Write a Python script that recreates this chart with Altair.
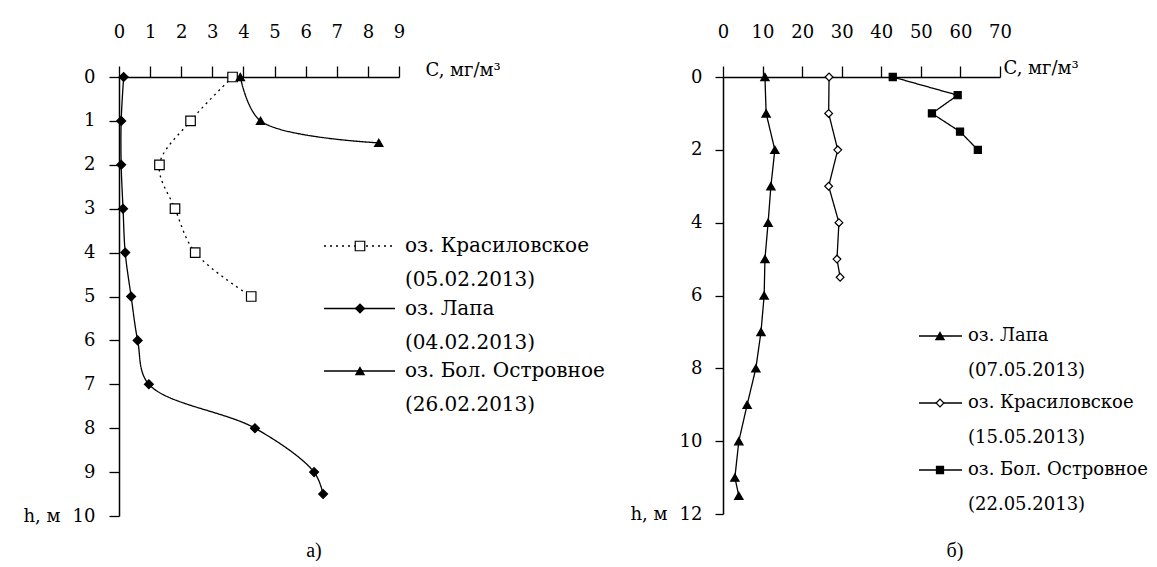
import altair as alt
import pandas as pd

# ---------------- Panel а) ----------------
depth_kras_a = [0, 1, 2, 3, 4, 5]
conc_kras_a = [3.65, 2.3, 1.3, 1.8, 2.45, 4.25]
depth_lapa_a = [0, 1, 2, 3, 4, 5, 6, 7, 8, 9, 9.5]
conc_lapa_a = [0.15, 0.07, 0.07, 0.13, 0.2, 0.39, 0.6, 0.96, 4.37, 6.27, 6.56]
depth_ostr_a = [0, 1, 1.5]
conc_ostr_a = [3.9, 4.55, 8.35]
names_a = ["оз. Красиловское", "оз. Лапа", "оз. Бол. Островное"]
dates_a = ["(05.02.2013)", "(04.02.2013)", "(26.02.2013)"]
xticks_a = [0, 1, 2, 3, 4, 5, 6, 7, 8, 9]
yticks_a = [0, 1, 2, 3, 4, 5, 6, 7, 8, 9, 10]

# ---------------- Panel б) ----------------
depth_lapa_b = [0, 1, 2, 3, 4, 5, 6, 7, 8, 9, 10, 11, 11.5]
conc_lapa_b = [10.6, 10.9, 13.1, 12.1, 11.4, 10.6, 10.4, 9.6, 8.3, 6.1, 4.0, 3.0, 4.0]
depth_kras_b = [0, 1, 2, 3, 4, 5, 5.5]
conc_kras_b = [26.8, 26.7, 29.0, 26.7, 29.3, 28.8, 29.6]
depth_ostr_b = [0, 0.5, 1, 1.5, 2]
conc_ostr_b = [42.9, 59.3, 52.8, 59.9, 64.4]
names_b = ["оз. Лапа", "оз. Красиловское", "оз. Бол. Островное"]
dates_b = ["(07.05.2013)", "(15.05.2013)", "(22.05.2013)"]
xticks_b = [0, 10, 20, 30, 40, 50, 60, 70]
yticks_b = [0, 2, 4, 6, 8, 10, 12]

SERIF = "DejaVu Serif"


def make_df(series):
    rows = []
    for name, hs, cs in series:
        for h, c in zip(hs, cs):
            rows.append({"lake": name, "h": h, "c": c})
    return pd.DataFrame(rows)


def panel(series, names, dates, shapes, fills, sizes, dashes, xdom, xticks,
          ydom, yticks, width, height, interp, xtick, ytick, ylabpad,
          ttl_x, ttl_y, hx, leg, caption, cap_x, cap_y, leg_fs):
    df = make_df(series)
    dash_s = alt.Scale(domain=names, range=dashes)
    shape_s = alt.Scale(domain=names, range=shapes)
    fill_s = alt.Scale(domain=names, range=fills)
    size_s = alt.Scale(domain=names, range=sizes)

    xax = alt.Axis(orient="top", values=xticks, tickSize=xtick,
                   labelPadding=25, labelOverlap=False,
                   labelFont=SERIF, labelFontSize=18,
                   title="C,  мг/м³", titleX=ttl_x, titleY=ttl_y, titleAngle=0,
                   titleAlign="left", titleBaseline="middle",
                   titleFont=SERIF, titleFontSize=18)
    yax = alt.Axis(orient="left", values=yticks, tickSize=ytick,
                   labelPadding=ylabpad, labelOverlap=False,
                   labelFont=SERIF, labelFontSize=18,
                   title="h, м", titleX=hx, titleY=height, titleAngle=0,
                   titleAlign="right", titleBaseline="middle",
                   titleFont=SERIF, titleFontSize=18)

    xs = alt.Scale(domain=xdom, nice=False, zero=False)
    ys = alt.Scale(domain=ydom, nice=False, reverse=True, zero=False)

    lines = alt.Chart(df).mark_line(interpolate=interp, color="black", strokeWidth=1.3).encode(
        x=alt.X("c:Q", scale=xs, axis=xax), y=alt.Y("h:Q", scale=ys, axis=yax),
        detail="lake:N", order=alt.Order("h:Q"),
        strokeDash=alt.StrokeDash("lake:N", scale=dash_s, legend=None))
    pts = alt.Chart(df).mark_point(filled=True, stroke="black", strokeWidth=1.2, opacity=1).encode(
        x=alt.X("c:Q", scale=xs, axis=xax), y=alt.Y("h:Q", scale=ys, axis=yax),
        shape=alt.Shape("lake:N", scale=shape_s, legend=None),
        fill=alt.Fill("lake:N", scale=fill_s, legend=None),
        size=alt.Size("lake:N", scale=size_s, legend=None))

    x0, x1, mx, tx, y0, dy, ddy = leg
    ldf = pd.DataFrame({"lake": names, "date": dates, "i": list(range(len(names)))})
    lbase = alt.Chart(ldf).transform_calculate(
        ly=f"{y0} + datum.i * {dy}", ly2=f"{y0} + datum.i * {dy} + {ddy}")
    lrule = lbase.mark_rule(color="black", strokeWidth=1.3).encode(
        x=alt.value(x0), x2=alt.value(x1), y=alt.Y("ly:Q", scale=None, axis=None),
        strokeDash=alt.StrokeDash("lake:N", scale=dash_s, legend=None))
    lpt = lbase.mark_point(filled=True, stroke="black", strokeWidth=1.2, opacity=1).encode(
        x=alt.value(mx), y=alt.Y("ly:Q", scale=None, axis=None),
        shape=alt.Shape("lake:N", scale=shape_s, legend=None),
        fill=alt.Fill("lake:N", scale=fill_s, legend=None),
        size=alt.Size("lake:N", scale=size_s, legend=None))
    ltxt = lbase.mark_text(align="left", baseline="middle", font=SERIF, fontSize=leg_fs,
                           color="black").encode(
        x=alt.value(tx), y=alt.Y("ly:Q", scale=None, axis=None), text="lake:N")
    ltxt2 = lbase.mark_text(align="left", baseline="middle", font=SERIF, fontSize=leg_fs,
                            color="black").encode(
        x=alt.value(tx), y=alt.Y("ly2:Q", scale=None, axis=None), text="date:N")

    cap = alt.Chart(pd.DataFrame({"cap": [caption]})).mark_text(
        align="center", baseline="middle", font="Liberation Serif", fontSize=20,
        color="black").encode(x=alt.value(cap_x), y=alt.value(cap_y), text="cap:N")

    return alt.layer(lines, pts, lrule, lpt, ltxt, ltxt2, cap).properties(
        width=width, height=height)


left = panel(
    [(names_a[0], depth_kras_a, conc_kras_a),
     (names_a[1], depth_lapa_a, conc_lapa_a),
     (names_a[2], depth_ostr_a, conc_ostr_a)],
    names_a, dates_a,
    ["square", "diamond", "triangle-up"], ["white", "black", "black"], [90, 70, 80],
    [[2, 4], [1, 0], [1, 0]],
    [0, 9], xticks_a, [0, 10], yticks_a, 280, 439, "catmull-rom",
    11, 10, 14, 306, -7, -59,
    (205, 276, 241, 286, 169, 62.5, 34), "а)", 195, 474, 20)

right = panel(
    [(names_b[0], depth_lapa_b, conc_lapa_b),
     (names_b[1], depth_kras_b, conc_kras_b),
     (names_b[2], depth_ostr_b, conc_ostr_b)],
    names_b, dates_b,
    ["triangle-up", "diamond", "square"], ["black", "white", "black"], [70, 50, 90],
    [[1, 0], [1, 0], [1, 0]],
    [0, 70], xticks_b, [0, 12], yticks_b, 277, 437, "linear",
    11, 8, 13, 280, -9, -56,
    (196, 239, 217, 245, 259, 67, 35), "б)", 232, 474, 18)

chart = alt.hconcat(left, right, spacing=324, bounds="flush").resolve_scale(
    x="independent", y="independent", shape="independent", fill="independent",
    size="independent", strokeDash="independent"
).properties(
    padding={"left": 14, "top": 15, "right": 0, "bottom": 0},
    background="white"
).configure_view(strokeWidth=0).configure_axis(
    labelColor="black", titleColor="black", titleFontWeight="normal",
    domainColor="black", domainWidth=1.5, tickColor="black", tickWidth=1.3,
    grid=False, labelFlush=False
).configure_axisX(labelFont=SERIF, labelFontSize=18, titleFont=SERIF, titleFontSize=18
).configure_axisY(labelFont=SERIF, labelFontSize=18, titleFont=SERIF, titleFontSize=18)

chart.save("out.html", embed_options={"renderer": "svg", "actions": False})
